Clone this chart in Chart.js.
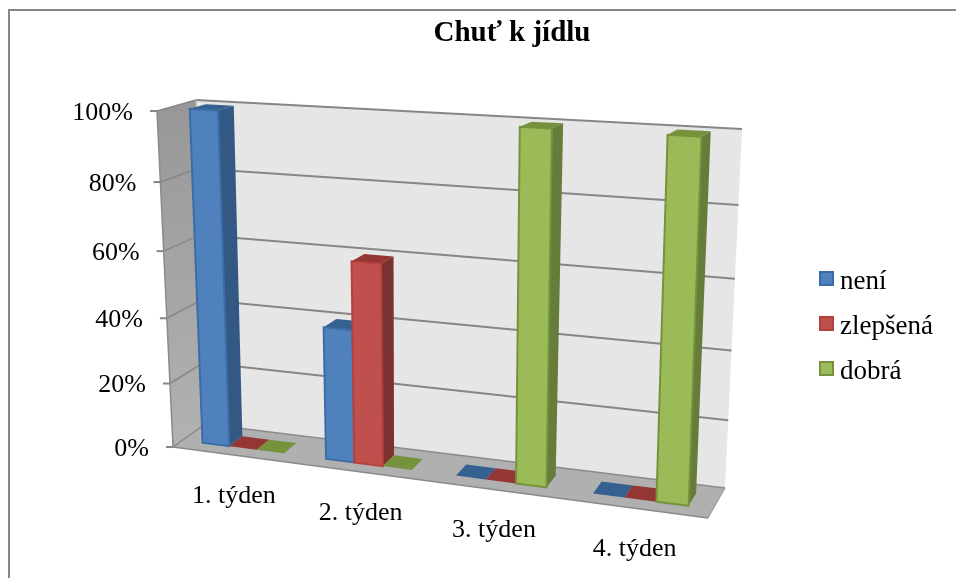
<!DOCTYPE html>
<html>
<head>
<meta charset="utf-8">
<style>
  html, body { margin: 0; background: #fff; }
  canvas { display: block; }
</style>
<script src="https://cdn.jsdelivr.net/npm/chart.js@4"></script>
</head>
<body>
<canvas id="appetiteChart" width="956" height="578"></canvas>
<script>
const categories = ['1. týden', '2. týden', '3. týden', '4. týden'];
const seriesNames = ['není', 'zlepšená', 'dobrá'];
const neni = [100, 40, 0, 0];
const zlepsena = [0, 60, 0, 0];
const dobra = [0, 0, 100, 100];
const yTicks = [0, 20, 40, 60, 80, 100];

const FONT = '"Liberation Serif", "Times New Roman", serif';

// corners of the 3D box, x = left/right, y = floor/top, z = back/front
const BOX = {
  back:  { bl: [205, 424], br: [725, 488], tl: [196, 100], tr: [742, 129] },
  front: { bl: [173, 447], br: [708, 518], tl: [157, 111], tr: [721, 142] }
};
const Z_BAR_BACK = 0.28, Z_BAR_FRONT = 0.7;

// foreshortening along x and y
function warp(t, k) { return t * (1 + k) / (1 + k * t); }

function project(x, y, z) {
  const u = warp(x, -0.1), v = warp(y, -0.068);
  const lerp = (a, b, t) => [a[0] + (b[0] - a[0]) * t, a[1] + (b[1] - a[1]) * t];
  const plane = c => lerp(lerp(c.bl, c.br, u), lerp(c.tl, c.tr, u), v);
  return lerp(plane(BOX.back), plane(BOX.front), z);
}

function quad(ctx, pts, fill, stroke, lw) {
  ctx.beginPath();
  pts.forEach((p, i) => i ? ctx.lineTo(p[0], p[1]) : ctx.moveTo(p[0], p[1]));
  ctx.closePath();
  ctx.fillStyle = fill;
  ctx.fill();
  if (stroke) {
    ctx.strokeStyle = stroke;
    ctx.lineWidth = lw || 1;
    ctx.stroke();
  }
}

function line(ctx, a, b, color, lw) {
  ctx.beginPath();
  ctx.moveTo(a[0], a[1]);
  ctx.lineTo(b[0], b[1]);
  ctx.strokeStyle = color;
  ctx.lineWidth = lw;
  ctx.stroke();
}

const perspective3d = {
  id: 'perspective3d',

  beforeDraw(chart) {
    const ctx = chart.ctx;
    ctx.save();
    // outer chart border, open on the right and at the bottom
    ctx.fillStyle = '#868686';
    ctx.fillRect(8, 9, 948, 2);
    ctx.fillRect(8, 9, 2, 569);
    ctx.restore();
  },

  beforeDatasetsDraw(chart) {
    const ctx = chart.ctx;
    const yScale = chart.scales.y, xScale = chart.scales.x;
    const frac = v => (v - yScale.min) / (yScale.max - yScale.min);
    ctx.save();

    // back wall
    quad(ctx, [project(0, 0, 0), project(1, 0, 0), project(1, 1, 0), project(0, 1, 0)], '#e6e6e6');

    // side wall, gets lighter towards the floor
    const sideGrad = ctx.createLinearGradient(0, 100, 0, 447);
    sideGrad.addColorStop(0, '#979797');
    sideGrad.addColorStop(1, '#b2b2b2');
    quad(ctx, [project(0, 0, 0), project(0, 1, 0), project(0, 1, 1), project(0, 0, 1)], sideGrad);

    // floor
    quad(ctx, [project(0, 0, 0), project(1, 0, 0), project(1, 0, 1), project(0, 0, 1)], '#b0b0b0');
    line(ctx, project(0, 0, 1), project(1, 0, 1), '#8a8a8a', 1.5);
    line(ctx, project(1, 0, 1), project(1, 0, 0), '#8f8f8f', 1);
    line(ctx, project(0, 0, 0), project(1, 0, 0), '#8a8a8a', 1.5);

    // gridlines, tick marks and value labels
    ctx.font = '26px ' + FONT;
    ctx.textAlign = 'right';
    ctx.textBaseline = 'middle';
    yScale.ticks.forEach(tick => {
      const f = frac(tick.value);
      if (f > 0) line(ctx, project(0, f, 0), project(1, f, 0), '#868686', 2);
      line(ctx, project(0, f, 0), project(0, f, 1), '#868686', 1.5);
      const p = project(0, f, 1);
      line(ctx, p, [p[0] - 7, p[1]], '#868686', 2);
      ctx.fillStyle = '#000';
      ctx.fillText(tick.label, p[0] - 24, p[1] + 2);
    });
    line(ctx, project(0, 0, 1), project(0, 1, 1), '#8a8a8a', 1.5);
    line(ctx, project(0, 0, 0), project(0, 1, 0), '#b8b8b8', 1);

    // category labels under the front edge of the floor
    ctx.textAlign = 'center';
    categories.forEach((label, i) => {
      const x = (xScale.getPixelForValue(i) - xScale.left) / xScale.width;
      const p = project(x, 0, 1);
      ctx.fillStyle = '#000';
      ctx.fillText(label, p[0], p[1] + 41);
    });

    // bars, left to right so each one covers the side of its neighbour
    const area = chart.chartArea;
    chart.data.labels.forEach((_, j) => {
      chart.data.datasets.forEach((ds, i) => {
        const el = chart.getDatasetMeta(i).data[j];
        const x0 = (el.x - el.width / 2 - area.left) / area.width;
        const x1 = (el.x + el.width / 2 - area.left) / area.width;
        const h = (area.bottom - el.y) / area.height;
        const zb = Z_BAR_BACK, zf = Z_BAR_FRONT;

        quad(ctx, [project(x0, h, zf), project(x1, h, zf), project(x1, h, zb), project(x0, h, zb)], ds.topColor);
        if (h > 0) {
          quad(ctx, [project(x1, 0, zf), project(x1, 0, zb), project(x1, h, zb), project(x1, h, zf)], ds.sideColor);
          quad(ctx, [project(x0, 0, zf), project(x1, 0, zf), project(x1, h, zf), project(x0, h, zf)],
            ds.backgroundColor, ds.borderColor, 2);
        }
      });
    });
    ctx.restore();
  },

  // the bars are already drawn in perspective above
  beforeDatasetDraw() { return false; },

  // legend keys sit tighter to their text than the built-in legend allows
  afterDraw(chart) {
    const ctx = chart.ctx;
    const keyY = [272, 317, 362];
    ctx.save();
    ctx.font = '27px ' + FONT;
    ctx.textAlign = 'left';
    ctx.textBaseline = 'alphabetic';
    chart.data.datasets.forEach((ds, i) => {
      ctx.fillStyle = ds.backgroundColor;
      ctx.strokeStyle = ds.borderColor;
      ctx.lineWidth = 2;
      ctx.fillRect(820, keyY[i], 13, 13);
      ctx.strokeRect(820, keyY[i], 13, 13);
      ctx.fillStyle = '#000';
      ctx.fillText(ds.label, 840, keyY[i] + 17);
    });
    ctx.restore();
  }
};

new Chart(document.getElementById('appetiteChart'), {
  type: 'bar',
  data: {
    labels: categories,
    datasets: [
      { label: seriesNames[0], data: neni, backgroundColor: '#4f81bd', borderColor: '#3b6ca6', sideColor: '#345884', topColor: '#34618f' },
      { label: seriesNames[1], data: zlepsena, backgroundColor: '#c0504d', borderColor: '#b5413e', sideColor: '#7c3230', topColor: '#933634' },
      { label: seriesNames[2], data: dobra, backgroundColor: '#9bbb59', borderColor: '#76923c', sideColor: '#667c3a', topColor: '#76923c' }
    ]
  },
  options: {
    responsive: false,
    animation: false,
    layout: { padding: { left: 90, right: 22, top: 8, bottom: 120 } },
    datasets: { bar: { categoryPercentage: 2 / 3, barPercentage: 1 } },
    scales: {
      x: { display: false, grid: { display: false } },
      y: {
        display: false,
        min: 0,
        max: 100,
        afterBuildTicks(axis) { axis.ticks = yTicks.map(v => ({ value: v })); },
        ticks: { callback: v => v + '%' }
      }
    },
    plugins: {
      title: {
        display: true,
        text: 'Chuť k jídlu',
        color: '#000',
        font: { family: FONT, size: 29, weight: 'bold' },
        padding: { top: 8, bottom: 10 }
      },
      legend: { display: false },
      tooltip: { enabled: false }
    }
  },
  plugins: [perspective3d]
});
</script>
</body>
</html>
